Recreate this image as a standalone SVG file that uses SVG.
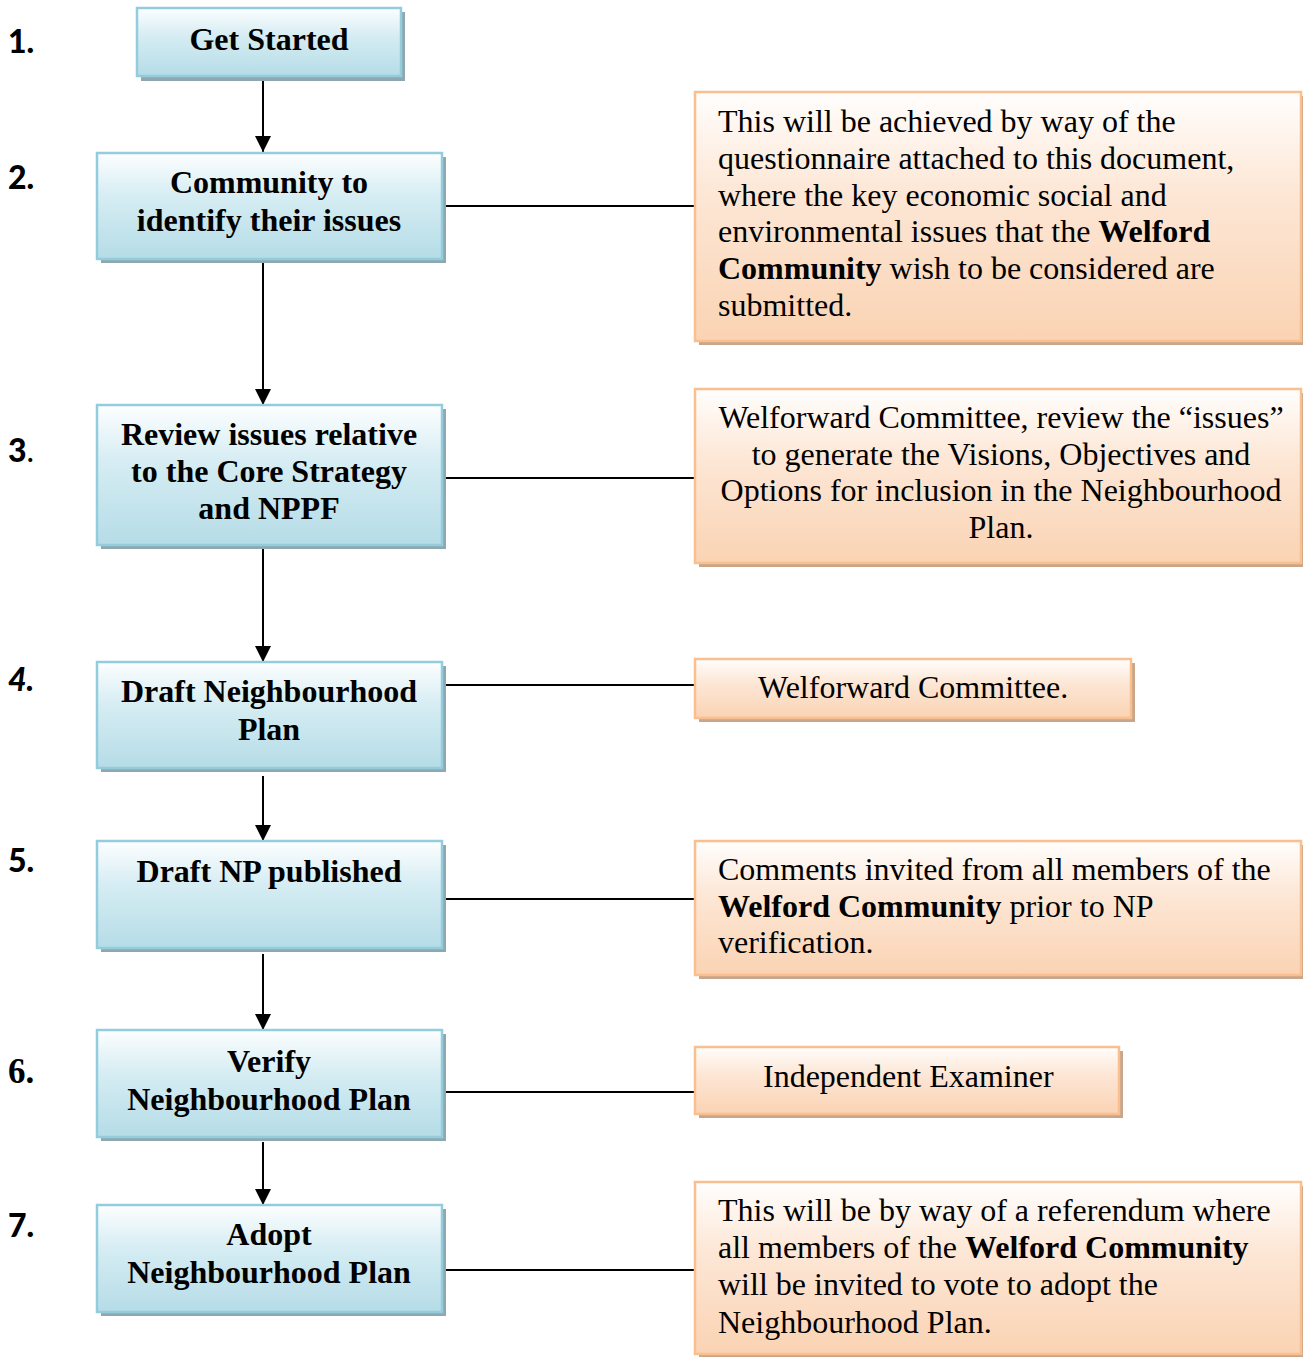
<svg xmlns="http://www.w3.org/2000/svg" width="1303" height="1357" viewBox="0 0 1303 1357">
<defs>
<linearGradient id="gBlue" x1="0" y1="0" x2="0" y2="1">
<stop offset="0" stop-color="#fdfeff"/>
<stop offset="0.4" stop-color="#d6edf3"/>
<stop offset="1" stop-color="#b5dce7"/>
</linearGradient>
<linearGradient id="gOrange" x1="0" y1="0" x2="0" y2="1">
<stop offset="0" stop-color="#fffefd"/>
<stop offset="0.4" stop-color="#fde7d6"/>
<stop offset="1" stop-color="#fad3b3"/>
</linearGradient>
<marker id="arr" markerUnits="userSpaceOnUse" markerWidth="17" markerHeight="17" refX="16" refY="8" orient="auto">
<path d="M0,0 L16,8 L0,16 z" fill="#000"/>
</marker>
</defs>
<style>
.bshadow{fill:#8ea8b0}
.bbox{fill:url(#gBlue);stroke:#93cddd;stroke-width:2.5}
.oshadow{fill:#c9a68a}
.obox{fill:url(#gOrange);stroke:#f9bf8f;stroke-width:2.5}
.bt{font-family:"Liberation Serif","Times New Roman",serif;font-weight:bold;font-size:32px;fill:#000;text-anchor:middle}
.ot{font-family:"Liberation Serif","Times New Roman",serif;font-size:32px;fill:#000}
.num{font-family:Lato,"Open Sans",sans-serif;font-weight:900;font-size:32px;fill:#000}
.conn{stroke:#000;stroke-width:2;fill:none}
</style>

<g id="numbers">
<text class="num" x="8" y="53">1.</text>
<text class="num" x="8" y="189">2.</text>
<text class="num" x="8" y="462">3<tspan font-weight="normal">.</tspan></text>
<text class="num" x="8" y="691" font-style="italic">4.</text>
<text class="num" x="8" y="872">5.</text>
<text x="8" y="1083" font-family="'Liberation Serif',serif" font-weight="bold" font-size="35px">6.</text>
<text class="num" x="8" y="1237">7.</text>
</g>

<g id="connectors">
<line class="conn" x1="263" y1="77" x2="263" y2="152" marker-end="url(#arr)"/>
<line class="conn" x1="263" y1="259" x2="263" y2="405" marker-end="url(#arr)"/>
<line class="conn" x1="263" y1="546" x2="263" y2="662" marker-end="url(#arr)"/>
<line class="conn" x1="263" y1="776" x2="263" y2="841" marker-end="url(#arr)"/>
<line class="conn" x1="263" y1="954" x2="263" y2="1030" marker-end="url(#arr)"/>
<line class="conn" x1="263" y1="1142" x2="263" y2="1205" marker-end="url(#arr)"/>
<line class="conn" x1="442" y1="206" x2="696" y2="206"/>
<line class="conn" x1="442" y1="478" x2="696" y2="478"/>
<line class="conn" x1="442" y1="685" x2="696" y2="685"/>
<line class="conn" x1="442" y1="899" x2="696" y2="899"/>
<line class="conn" x1="442" y1="1092" x2="696" y2="1092"/>
<line class="conn" x1="442" y1="1270" x2="696" y2="1270"/>
</g>

<g id="n1">
<rect class="bshadow" x="141" y="12" width="264" height="69"/>
<rect class="bbox" x="137" y="8" width="264" height="68"/>
<text class="bt" x="269" y="50">Get Started</text>
</g>
<g id="n2">
<rect class="bshadow" x="101" y="157" width="345" height="106"/>
<rect class="bbox" x="97" y="153" width="345" height="106"/>
<text class="bt" x="269" y="193">Community to</text>
<text class="bt" x="269" y="231">identify their issues</text>
</g>
<g id="n3">
<rect class="bshadow" x="101" y="409" width="345" height="140"/>
<rect class="bbox" x="97" y="405" width="345" height="140"/>
<text class="bt" x="269" y="445">Review issues relative</text>
<text class="bt" x="269" y="482">to the Core Strategy</text>
<text class="bt" x="269" y="519">and NPPF</text>
</g>
<g id="n4">
<rect class="bshadow" x="101" y="666" width="345" height="106"/>
<rect class="bbox" x="97" y="662" width="345" height="106"/>
<text class="bt" x="269" y="702">Draft Neighbourhood</text>
<text class="bt" x="269" y="740">Plan</text>
</g>
<g id="n5">
<rect class="bshadow" x="101" y="845" width="345" height="107"/>
<rect class="bbox" x="97" y="841" width="345" height="107"/>
<text class="bt" x="269" y="882">Draft NP published</text>
</g>
<g id="n6">
<rect class="bshadow" x="101" y="1034" width="345" height="107"/>
<rect class="bbox" x="97" y="1030" width="345" height="107"/>
<text class="bt" x="269" y="1072">Verify</text>
<text class="bt" x="269" y="1110">Neighbourhood Plan</text>
</g>
<g id="n7">
<rect class="bshadow" x="101" y="1209" width="345" height="107"/>
<rect class="bbox" x="97" y="1205" width="345" height="107"/>
<text class="bt" x="269" y="1245">Adopt</text>
<text class="bt" x="269" y="1283">Neighbourhood Plan</text>
</g>

<g id="note2">
<rect class="oshadow" x="699" y="96" width="606" height="249"/>
<rect class="obox" x="695" y="92" width="606" height="249"/>
<text class="ot" x="718" y="132">This will be achieved by way of the</text>
<text class="ot" x="718" y="169">questionnaire attached to this document,</text>
<text class="ot" x="718" y="206">where the key economic social and</text>
<text class="ot" x="718" y="242">environmental issues that the <tspan font-weight="bold">Welford</tspan></text>
<text class="ot" x="718" y="279"><tspan font-weight="bold">Community</tspan> wish to be considered are</text>
<text class="ot" x="718" y="316">submitted.</text>
</g>
<g id="note3">
<rect class="oshadow" x="699" y="393" width="606" height="174"/>
<rect class="obox" x="695" y="389" width="606" height="174"/>
<text class="ot" x="1001" y="428" text-anchor="middle">Welforward Committee, review the “issues”</text>
<text class="ot" x="1001" y="465" text-anchor="middle">to generate the Visions, Objectives and</text>
<text class="ot" x="1001" y="501" text-anchor="middle">Options for inclusion in the Neighbourhood</text>
<text class="ot" x="1001" y="538" text-anchor="middle">Plan.</text>
</g>
<g id="note4">
<rect class="oshadow" x="699" y="663" width="436" height="59"/>
<rect class="obox" x="695" y="659" width="436" height="59"/>
<text class="ot" x="758" y="698">Welforward Committee.</text>
</g>
<g id="note5">
<rect class="oshadow" x="699" y="845" width="606" height="134"/>
<rect class="obox" x="695" y="841" width="606" height="134"/>
<text class="ot" x="718" y="880">Comments invited from all members of the</text>
<text class="ot" x="718" y="917"><tspan font-weight="bold">Welford Community</tspan> prior to NP</text>
<text class="ot" x="718" y="953">verification.</text>
</g>
<g id="note6">
<rect class="oshadow" x="699" y="1051" width="424" height="67"/>
<rect class="obox" x="695" y="1047" width="424" height="67"/>
<text class="ot" x="763" y="1087">Independent Examiner</text>
</g>
<g id="note7">
<rect class="oshadow" x="699" y="1186" width="606" height="172"/>
<rect class="obox" x="695" y="1182" width="606" height="172"/>
<text class="ot" x="718" y="1221">This will be by way of a referendum where</text>
<text class="ot" x="718" y="1258">all members of the <tspan font-weight="bold">Welford Community</tspan></text>
<text class="ot" x="718" y="1295">will be invited to vote to adopt the</text>
<text class="ot" x="718" y="1333">Neighbourhood Plan.</text>
</g>
</svg>
